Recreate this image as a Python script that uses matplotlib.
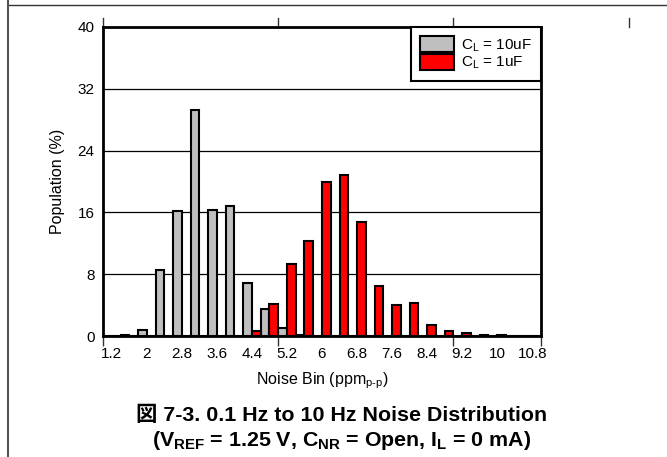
import matplotlib
matplotlib.use("Agg")
import matplotlib.pyplot as plt
import matplotlib.transforms as mtransforms
from matplotlib.lines import Line2D
import numpy as np

plt.rcParams["font.family"] = ["Liberation Sans", "Noto Sans CJK JP"]
plt.rcParams["mathtext.fontset"] = "custom"
plt.rcParams["mathtext.rm"] = "Liberation Sans"
plt.rcParams["mathtext.it"] = "Liberation Sans:italic"
plt.rcParams["mathtext.bf"] = "Liberation Sans:bold"

# Noise bins (ppm p-p), step 0.4
bins = ["1.2", "1.6", "2", "2.4", "2.8", "3.2", "3.6", "4", "4.4", "4.8",
        "5.2", "5.6", "6", "6.4", "6.8", "7.2", "7.6", "8", "8.4", "8.8",
        "9.2", "9.6", "10", "10.4", "10.8"]
# Population (%) for each output capacitor
pop_10uF = [0.0, 0.1, 0.8, 8.6, 16.2, 29.2, 16.3, 16.8, 6.9, 3.5,
            1.0, 0.15, 0.0, 0.0, 0.0, 0.0, 0.0, 0.0, 0.0, 0.0,
            0.0, 0.0, 0.0, 0.0, 0.0]
pop_1uF = [0.0, 0.0, 0.0, 0.0, 0.0, 0.0, 0.0, 0.0, 0.7, 4.1,
           9.3, 12.3, 19.9, 20.9, 14.7, 6.5, 4.0, 4.3, 1.4, 0.7,
           0.35, 0.15, 0.08, 0.05, 0.03]
legend_labels = [r"C$_\mathrm{L}$ = 10uF", r"C$_\mathrm{L}$ = 1uF"]
y_ticks = [0, 8, 16, 24, 32, 40]

W, H = 667, 457
fig = plt.figure(figsize=(W / 100, H / 100), dpi=100)

# page frame lines
fig.add_artist(Line2D([8 / W, 1], [1 - 5 / H, 1 - 5 / H], transform=fig.transFigure,
                      color="#333333", lw=1.0))
fig.add_artist(Line2D([8 / W, 8 / W], [0, 1], transform=fig.transFigure,
                      color="#555555", lw=1.5))

ax = fig.add_axes([103 / W, 1 - 336 / H, 438 / W, 309 / H])

x = np.arange(len(bins))
w = 0.5
ax.bar(x - w / 2, pop_10uF, width=w, color="#BFBFBF", edgecolor="black",
       linewidth=1.5, label=legend_labels[0], zorder=3)
ax.bar(x + w / 2, pop_1uF, width=w, color="#FF0000", edgecolor="black",
       linewidth=1.5, label=legend_labels[1], zorder=3)

ax.set_xlim(-0.5, len(bins) - 0.5)
ax.set_ylim(0, 40)
ax.set_yticks(y_ticks)
ax.set_yticklabels([str(v) for v in y_ticks])
ax.tick_params(axis="y", length=0, pad=6, labelsize=11)
ax.grid(axis="y", color="black", linewidth=0.9, zorder=0)

# labels every second bin, boundary tick marks every ten bins
ax.set_xticks(x[::2])
ax.set_xticklabels(bins[::2])
ax.tick_params(axis="x", which="major", length=0, pad=8, labelsize=11)
ax.set_xticks([-0.5, 9.5, 19.5, len(bins) - 0.5], minor=True)
ax.tick_params(axis="x", which="minor", length=7, width=1.0, direction="out",
               color="#333333")

trans = mtransforms.blended_transform_factory(ax.transData, ax.transAxes)
for xt in [-0.5, 9.5, 19.5, 29.5]:
    ax.add_line(Line2D([xt, xt], [1.0, 1.0 + 9 / 309], transform=trans,
                       color="#333333", lw=1.0, clip_on=False))

for s in ax.spines.values():
    s.set_linewidth(2.0)
    s.set_color("black")

ax.set_ylabel("Population (%)", fontsize=11.5, labelpad=9)
ax.set_xlabel(r"Noise Bin (ppm$_\mathrm{p\text{-}p}$)", fontsize=11.5, labelpad=7)

leg = ax.legend(loc="upper right", bbox_to_anchor=(1, 1), borderaxespad=0,
                fontsize=11, fancybox=False, framealpha=1, edgecolor="black",
                handlelength=2.2, handleheight=1.2, labelspacing=0.0,
                handletextpad=0.45, borderpad=0.62)
leg.get_frame().set_linewidth(1.5)

fig.text(342 / W, 1 - 415 / H, "図 7-3. 0.1 Hz to 10 Hz Noise Distribution",
         ha="center", va="center", fontsize=15.4, fontweight="bold")
fig.text(342 / W, 1 - 441 / H,
         r"(V$_\mathbf{REF}$ = 1.25 V, C$_\mathbf{NR}$ = Open, I$_\mathbf{L}$ = 0 mA)",
         ha="center", va="center", fontsize=15.4, fontweight="bold")

fig.savefig("out.png", dpi=100)
